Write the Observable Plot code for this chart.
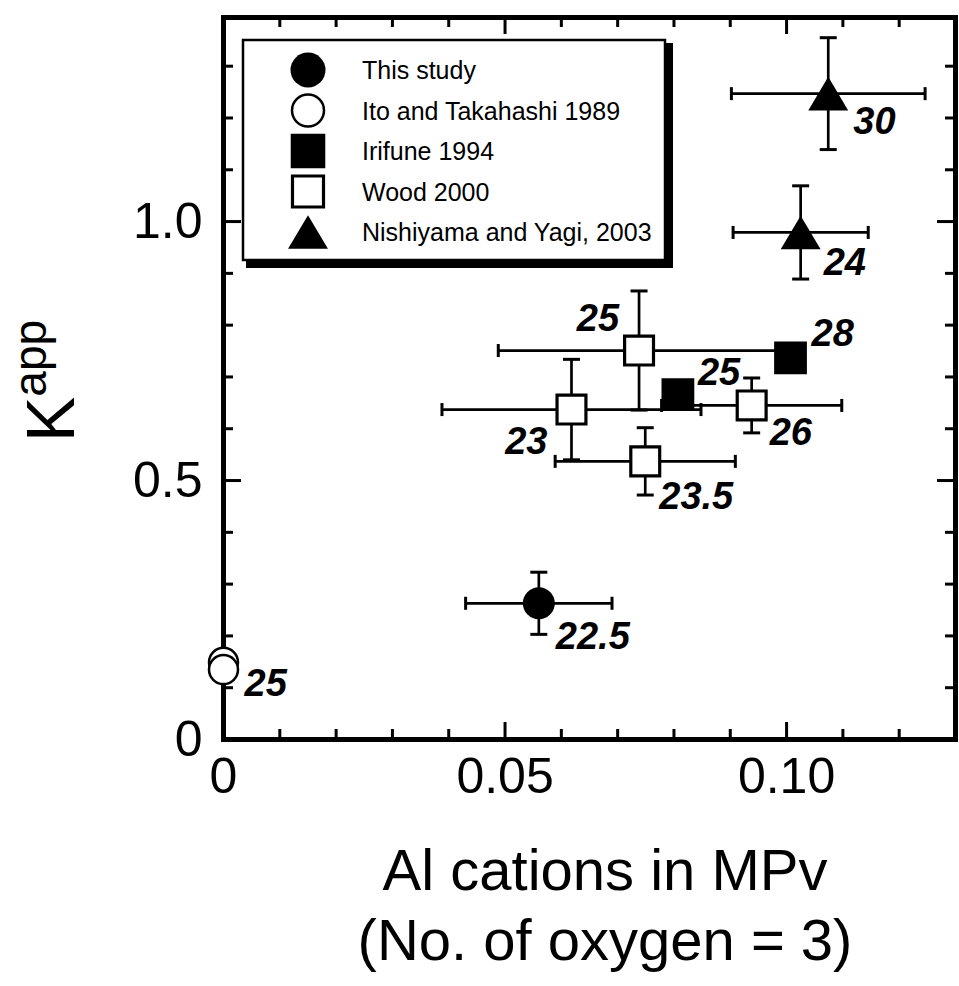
<!DOCTYPE html>
<html><head><meta charset="utf-8">
<script src="https://cdn.jsdelivr.net/npm/d3@7"></script>
<script src="https://cdn.jsdelivr.net/npm/@observablehq/plot@0.6"></script>
<style>body{margin:0;background:#fff}</style>
</head><body><div id="chart"></div>
<script>
// ---- data ----
const seriesNames = ["This study", "Ito and Takahashi 1989", "Irifune 1994", "Wood 2000", "Nishiyama and Yagi, 2003"];
const pointSeries = [0, 1, 1, 2, 2, 3, 3, 3, 3, 4, 4];
const alCations   = [0.056, 0, 0, 0.1007, 0.0807, 0.0738, 0.0618, 0.0938, 0.0749, 0.1074, 0.1025];
const kApp        = [0.263, 0.149, 0.135, 0.737, 0.666, 0.751, 0.637, 0.645, 0.537, 1.247, 0.979];
const alErr       = [0.013, null, null, null, null, 0.025, 0.023, 0.016, 0.016, 0.0172, 0.012];
const kErr        = [0.060, null, null, null, null, 0.115, 0.097, 0.053, 0.065, 0.108, 0.090];
const pressureLabels = ["22.5", "", "25", "28", "25", "25", "23", "26", "23.5", "30", "24"];
const xTicks = [0, 0.05, 0.10];
const xTickLabels = ["0", "0.05", "0.10"];
const yTicks = [0, 0.5, 1.0];
const yTickLabels = ["0", "0.5", "1.0"];
const xMajorTicks = [0.05, 0.10];
const xMinorTicks = [0.01, 0.02, 0.03, 0.04, 0.06, 0.07, 0.08, 0.09, 0.11, 0.12];
const yMajorTicks = [0.5, 1.0];
const yMinorTicks = [0.1, 0.2, 0.3, 0.4, 0.6, 0.7, 0.8, 0.9, 1.1, 1.2, 1.3];
const xTitle = ["Al cations in MPv", "(No. of oxygen = 3)"];
const yTitleMain = "K", yTitleSup = "app";

// ---- styling / placement ----
const labelOffsets = [[17,34,"start"], null, [21,14,"start"], [21,-24,"start"], [20,-22,"start"],
  [-20,-32,"end"], [-24,32,"end"], [18,27,"start"], [14,35,"start"], [25,28,"start"], [23,30,"start"]];

const triangleSym = {draw(ctx, size){ const r = Math.sqrt(size/Math.PI); const hw = r*1.33, hh = r*1.12;
  ctx.moveTo(0,-hh); ctx.lineTo(hw,hh); ctx.lineTo(-hw,hh); ctx.closePath(); }};
const capH = {draw(ctx, size){ const r = Math.sqrt(size/Math.PI); ctx.moveTo(-r,0); ctx.lineTo(r,0); }};
const capV = {draw(ctx, size){ const r = Math.sqrt(size/Math.PI); ctx.moveTo(0,-r); ctx.lineTo(0,r); }};

const styles = [
  {symbol: "circle", r: 16, fill: "black", stroke: "none", sw: 0, lr: 17.5},
  {symbol: "circle", r: 14.5, fill: "white", stroke: "black", sw: 2.5, lr: 16},
  {symbol: "square", r: 18.5, fill: "black", stroke: "none", sw: 0, lr: 19.5},
  {symbol: "square", r: 16.3, fill: "white", stroke: "black", sw: 3.2, lr: 17.5},
  {symbol: triangleSym, r: 15, fill: "black", stroke: "none", sw: 0, lr: 15}
];

const W = 959, H = 986, mL = 223, mR = 4, mT = 17, mB = 247;
const innerW = W - mL - mR, innerH = H - mT - mB;

const data = alCations.map((x, i) => ({s: pointSeries[i], series: seriesNames[pointSeries[i]], x, y: kApp[i], xe: alErr[i], ye: kErr[i], label: pressureLabels[i]}));
const withErr = data.filter(d => d.xe != null);

const FONT = "'Liberation Sans', Arial, Helvetica, sans-serif";

const plot = Plot.plot({
  width: W, height: H, marginLeft: mL, marginRight: mR, marginTop: mT, marginBottom: mB,
  x: {domain: [0, 0.13]},
  y: {domain: [0, 1.394]},
  style: {fontFamily: FONT, fontSize: "50px", color: "black", background: "white"},
  marks: [
    Plot.axisX(xTicks, {tickFormat: d => xTickLabels[xTicks.indexOf(d)], tickSize: 0, tickPadding: 18, fontSize: 50, label: null}),
    Plot.axisY(yTicks, {tickFormat: d => yTickLabels[yTicks.indexOf(d)], tickSize: 0, tickPadding: 21, fontSize: 50, label: null}),
    // inward ticks on all four sides
    Plot.tickX(xMajorTicks, {x: d => d, insetTop: innerH - 17, strokeWidth: 3}),
    Plot.tickX(xMinorTicks, {x: d => d, insetTop: innerH - 10, strokeWidth: 3}),
    Plot.tickX(xMajorTicks, {x: d => d, insetBottom: innerH - 17, strokeWidth: 3}),
    Plot.tickX(xMinorTicks, {x: d => d, insetBottom: innerH - 10, strokeWidth: 3}),
    Plot.tickY(yMajorTicks, {y: d => d, insetRight: innerW - 18, strokeWidth: 3}),
    Plot.tickY(yMinorTicks, {y: d => d, insetRight: innerW - 10, strokeWidth: 3}),
    Plot.tickY(yMajorTicks, {y: d => d, insetLeft: innerW - 18, strokeWidth: 3}),
    Plot.tickY(yMinorTicks, {y: d => d, insetLeft: innerW - 10, strokeWidth: 3}),
    Plot.frame({strokeWidth: 5}),
    // error bars
    Plot.ruleY(withErr, {y: "y", x1: d => d.x - d.xe, x2: d => d.x + d.xe, strokeWidth: 2.7}),
    Plot.ruleX(withErr, {x: "x", y1: d => d.y - d.ye, y2: d => d.y + d.ye, strokeWidth: 2.7}),
    Plot.dot(withErr, {x: d => d.x - d.xe, y: "y", symbol: capV, r: 6.5, fill: "none", stroke: "black", strokeWidth: 3}),
    Plot.dot(withErr, {x: d => d.x + d.xe, y: "y", symbol: capV, r: 6.5, fill: "none", stroke: "black", strokeWidth: 3}),
    Plot.dot(withErr, {x: "x", y: d => d.y - d.ye, symbol: capH, r: 8.5, fill: "none", stroke: "black", strokeWidth: 3}),
    Plot.dot(withErr, {x: "x", y: d => d.y + d.ye, symbol: capH, r: 8.5, fill: "none", stroke: "black", strokeWidth: 3}),
    // points
    ...styles.map((st, s) => Plot.dot(data.filter(d => d.s === s), {x: "x", y: "y", symbol: st.symbol, r: st.r, fill: st.fill, stroke: st.stroke, strokeWidth: st.sw})),
    // pressure labels
    ...data.map((d, i) => labelOffsets[i] && d.label ? Plot.text([d], {x: "x", y: "y", text: "label", dx: labelOffsets[i][0], dy: labelOffsets[i][1], textAnchor: labelOffsets[i][2], fontSize: 38, fontWeight: "bold", fontStyle: "italic", fill: "black"}) : null).filter(Boolean)
  ]
});

document.getElementById("chart").appendChild(plot);
const svg = d3.select(plot);

// legend
const lg = svg.append("g").attr("font-family", FONT).attr("font-size", 25).attr("text-anchor", "start");
lg.append("rect").attr("x", 246).attr("y", 43).attr("width", 427).attr("height", 225).attr("fill", "black");
lg.append("rect").attr("x", 243).attr("y", 40).attr("width", 422).attr("height", 220).attr("fill", "white").attr("stroke", "black").attr("stroke-width", 2.5);
seriesNames.forEach((name, i) => {
  const st = styles[i];
  const cy = 70 + i * 40.5;
  const type = st.symbol === "circle" ? d3.symbolCircle : st.symbol === "square" ? d3.symbolSquare : st.symbol;
  lg.append("path").attr("transform", `translate(308,${cy})`)
    .attr("d", d3.symbol(type, Math.PI * st.lr * st.lr)())
    .attr("fill", st.fill).attr("stroke", st.stroke).attr("stroke-width", st.sw);
  lg.append("text").attr("x", 362).attr("y", cy + 9).attr("text-anchor", "start").attr("fill", "black").text(name);
});

// axis titles
const xt = svg.append("g").attr("font-family", FONT).attr("font-size", 58).attr("text-anchor", "middle").attr("fill", "black");
xt.append("text").attr("x", 605).attr("y", 890).text(xTitle[0]);
xt.append("text").attr("x", 605).attr("y", 960).text(xTitle[1]);
const yt = svg.append("text").attr("font-family", FONT).attr("font-size", 68).attr("fill", "black")
  .attr("text-anchor", "start")
  .attr("transform", "translate(74,442) rotate(-90)");
yt.append("tspan").text(yTitleMain);
yt.append("tspan").attr("font-size", 46).attr("dy", -28).text(yTitleSup);
</script>
</body></html>
